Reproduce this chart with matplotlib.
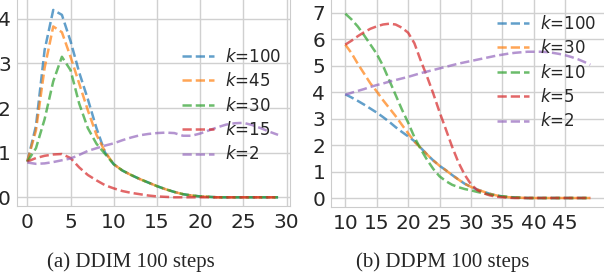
import matplotlib
matplotlib.use("Agg")
import matplotlib.pyplot as plt
import seaborn as sns

# ----------------------------
# Data
# ----------------------------
ddim_steps = list(range(0, 30))
ddim_labels = ["$k$=100", "$k$=45", "$k$=30", "$k$=15", "$k$=2"]
tail = [0.74, 0.6, 0.5, 0.41, 0.33, 0.25, 0.18, 0.12, 0.07, 0.04,
        0.02, 0.01, 0, 0, 0, 0, 0, 0, 0, 0]
ddim_k100 = [0.8, 1.6, 3.3, 4.2, 4.09, 3.5, 2.8, 2.2, 1.55, 1.0] + tail
ddim_k45 = [0.8, 1.5, 2.9, 3.83, 3.7, 3.15, 2.55, 1.95, 1.4, 1.02] + tail
ddim_k30 = [0.8, 1.1, 1.75, 2.6, 3.15, 2.85, 2.1, 1.55, 1.2, 0.97] + tail
ddim_k15 = [0.8, 0.88, 0.93, 0.96, 0.97, 0.88, 0.67, 0.5, 0.38, 0.27,
            0.2, 0.14, 0.1, 0.07, 0.04, 0.02, 0.01, 0, 0, 0,
            0, 0, 0, 0, 0, 0, 0, 0, 0, 0]
ddim_k2 = [0.78, 0.75, 0.76, 0.79, 0.83, 0.87, 0.95, 1.04, 1.1, 1.16,
           1.21, 1.28, 1.34, 1.39, 1.42, 1.44, 1.45, 1.44, 1.38, 1.38,
           1.43, 1.5, 1.57, 1.63, 1.66, 1.67, 1.62, 1.55, 1.47, 1.40]

ddpm_steps = list(range(10, 50))
ddpm_labels = ["$k$=100", "$k$=30", "$k$=10", "$k$=5", "$k$=2"]
ddpm_k100 = [3.92, 3.8, 3.67, 3.53, 3.38, 3.23, 3.06, 2.88, 2.68, 2.5,
             2.33, 2.15, 1.9, 1.65, 1.42, 1.22, 1.05, 0.87, 0.7, 0.54,
             0.42, 0.32, 0.24, 0.16, 0.1, 0.06, 0.03, 0.02, 0.01, 0,
             0, 0, 0, 0, 0, 0, 0, 0, 0, 0]
ddpm_k30 = [5.8, 5.47, 5.07, 4.7, 4.33, 4.03, 3.7, 3.4, 3.1, 2.77,
            2.45, 2.13, 1.9, 1.65, 1.42, 1.22, 1.05, 0.87, 0.7, 0.54,
            0.42, 0.32, 0.24, 0.16, 0.1, 0.06, 0.03, 0.02, 0.01, 0,
            0, 0, 0, 0, 0, 0, 0, 0, 0, 0]
ddpm_k10 = [6.97, 6.75, 6.48, 6.15, 5.8, 5.45, 5.0, 4.45, 3.9, 3.35,
            2.85, 2.3, 1.85, 1.45, 1.1, 0.82, 0.64, 0.5, 0.41, 0.34,
            0.29, 0.23, 0.18, 0.13, 0.09, 0.06, 0.04, 0.02, 0.01, 0,
            0, 0, 0, 0, 0, 0, 0, 0, 0, 0]
ddpm_k5 = [5.8, 5.95, 6.12, 6.27, 6.4, 6.49, 6.56, 6.59, 6.56, 6.44,
           6.25, 5.85, 5.2, 4.6, 3.95, 3.25, 2.6, 1.94, 1.35, 0.88,
           0.52, 0.3, 0.18, 0.1, 0.05, 0.03, 0.01, 0, 0, 0,
           0, 0, 0, 0, 0, 0, 0, 0, 0, 0]
ddpm_k2 = [3.9, 3.98, 4.05, 4.12, 4.2, 4.27, 4.33, 4.4, 4.46, 4.52,
           4.58, 4.65, 4.72, 4.78, 4.84, 4.9, 4.96, 5.02, 5.08, 5.13,
           5.18, 5.23, 5.28, 5.33, 5.38, 5.42, 5.46, 5.49, 5.51, 5.53,
           5.53, 5.53, 5.52, 5.49, 5.45, 5.4, 5.33, 5.25, 5.15, 5.04]

# ----------------------------
# Plot
# ----------------------------
sns.set_style("whitegrid")
plt.rcParams["font.family"] = ["DejaVu Sans"]

W, H = 604, 276
fig = plt.figure(figsize=(W / 100, H / 100), dpi=100)


def px_axes(x0, x1, y0, y1):
    # pixel box (left, right, top, bottom) -> figure fraction axes
    return fig.add_axes([x0 / W, 1 - y1 / H, (x1 - x0) / W, (y1 - y0) / H])


colors = sns.color_palette("tab10")[:5]

ax1 = px_axes(16.5, 290, -3, 206)
for ys, lab, c in zip([ddim_k100, ddim_k45, ddim_k30, ddim_k15, ddim_k2],
                      ddim_labels, colors):
    ax1.plot(ddim_steps, ys, "--", color=c, alpha=0.7, lw=1.8, label=lab)
ax1.set_xlim(-1.25, 30.38)
ax1.set_ylim(-0.195, 4.49)
ax1.set_xticks(range(0, 31, 5))
ax1.set_yticks(range(0, 5))

ax2 = px_axes(331, 606, -3, 207)
for ys, lab, c in zip([ddpm_k100, ddpm_k30, ddpm_k10, ddpm_k5, ddpm_k2],
                      ddpm_labels, colors):
    ax2.plot(ddpm_steps, ys, "--", color=c, alpha=0.7, lw=1.8, label=lab)
ax2.set_xlim(7.72, 51.5)
ax2.set_ylim(-0.34, 7.6)
ax2.set_xticks(range(10, 50, 5))
ax2.set_yticks(range(0, 8))

for ax in (ax1, ax2):
    ax.tick_params(labelsize=14.5, pad=1.5, colors="#262626")
    ax.tick_params(axis="y", pad=0.6)
    ax.grid(True, color="#d0d0d0", lw=1)
    for s in ax.spines.values():
        s.set_color("#cccccc")

leg_kw = dict(bbox_transform=fig.transFigure, loc="upper left",
              frameon=False, fontsize=12, borderpad=0, borderaxespad=0,
              handlelength=1.9, handletextpad=0.7, labelspacing=0.38)
ax1.legend(bbox_to_anchor=(182 / W, 1 - 48 / H), **leg_kw)
ax2.legend(bbox_to_anchor=(497 / W, 1 - 15 / H), **leg_kw)

fig.text(131 / W, 1 - 262 / H, "(a) DDIM 100 steps", ha="center",
         va="center", fontsize=15, family="Liberation Serif")
fig.text(443 / W, 1 - 262 / H, "(b) DDPM 100 steps", ha="center",
         va="center", fontsize=15, family="Liberation Serif")

fig.savefig("out.png", dpi=100)
